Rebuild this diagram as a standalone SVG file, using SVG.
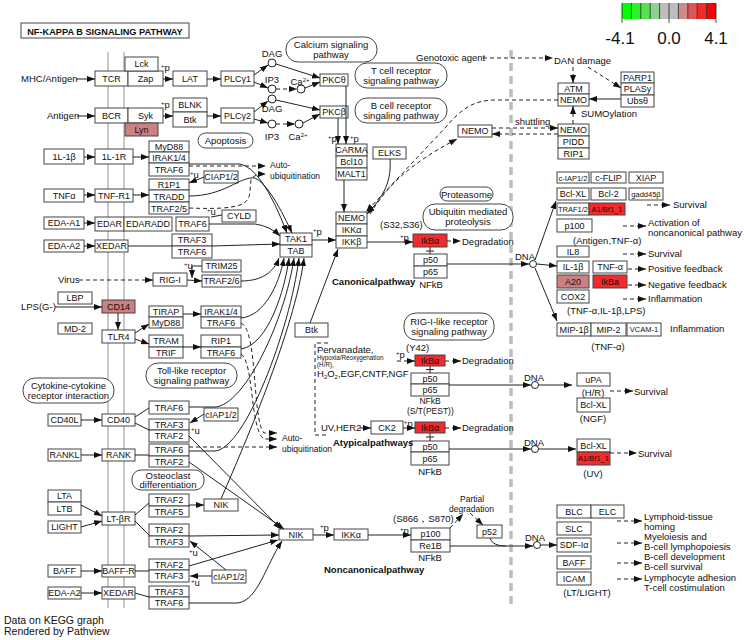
<svg xmlns="http://www.w3.org/2000/svg" width="744" height="640" viewBox="0 0 744 640">
<style>
text{font-family:"Liberation Sans",Arial,sans-serif;fill:#111}
.n rect{fill:#fff;stroke:#444;stroke-width:1}
.n text{font-size:9px;text-anchor:middle}
.n text.s{font-size:7.5px}
.n rect.pk{fill:#cc8080}
.n rect.rd{fill:#f52a2a}
.pw rect{fill:#fff;stroke:#444;stroke-width:1}
.pw text{font-size:9.5px;text-anchor:middle}
.lb{font-size:9.5px}
.sm{font-size:8.5px}
.bd{font-size:9.5px;font-weight:bold}
.mid{text-anchor:middle}
#conn path{fill:none;stroke:#222;stroke-width:1}
#conn path.d{stroke-dasharray:4,3}
.cp{fill:#fff;stroke:#222;stroke-width:1}
</style>
<defs>
<marker id="a" viewBox="0 0 8 6" refX="8" refY="3" markerWidth="8" markerHeight="6" orient="auto" markerUnits="userSpaceOnUse"><path d="M0,0 L8,3 L0,6z" fill="#111"/></marker>
</defs>
<rect width="744" height="640" fill="#fff"/>

<!-- membrane and nucleus lines -->
<line x1="108" y1="52" x2="108" y2="608" stroke="#c8c8c8" stroke-width="2"/>
<line x1="124" y1="52" x2="124" y2="608" stroke="#c8c8c8" stroke-width="2"/>
<line x1="511" y1="50" x2="511" y2="605" stroke="#bdbdbd" stroke-width="3.5" stroke-dasharray="8,5"/>

<!-- title -->
<g id="title"><rect x="21" y="23" width="168" height="15" fill="#fff" stroke="#444"/><text x="105" y="34.5" class="mid" font-weight="bold" font-size="9.2">NF-KAPPA B SIGNALING PATHWAY</text></g>

<!-- legend -->
<g id="legend">
<rect x="622" y="3" width="9.4" height="16" fill="#00ff00"/>
<rect x="631.4" y="3" width="9.4" height="16" fill="#2af12a"/>
<rect x="640.8" y="3" width="9.4" height="16" fill="#54e254"/>
<rect x="650.2" y="3" width="9.4" height="16" fill="#8fd08f"/>
<rect x="659.6" y="3" width="9.4" height="16" fill="#bdbdbd"/>
<rect x="669" y="3" width="9.4" height="16" fill="#bdbdbd"/>
<rect x="678.4" y="3" width="9.4" height="16" fill="#d08a8a"/>
<rect x="687.8" y="3" width="9.4" height="16" fill="#e25454"/>
<rect x="697.2" y="3" width="9.4" height="16" fill="#f12a2a"/>
<rect x="706.6" y="3" width="9.4" height="16" fill="#ff0000"/>
<path d="M622,3V23M631.4,3V19M640.8,3V19M650.2,3V19M659.6,3V19M669,3V23M678.4,3V19M687.8,3V19M697.2,3V19M706.6,3V19M716,3V23" stroke="#222" stroke-width="0.8"/>
<text x="620" y="44" class="mid" font-size="17">-4.1</text>
<text x="669" y="44" class="mid" font-size="17">0.0</text>
<text x="716" y="44" class="mid" font-size="17">4.1</text>
</g>

<!-- pathway nodes -->
<g class="pw" id="pw_calcium"><rect x="286" y="37" width="91" height="25" rx="12"/><text x="331" y="48">Calcium signaling</text><text x="331" y="58">pathway</text></g>
<g class="pw" id="pw_tcr"><rect x="355" y="63" width="92" height="25" rx="12"/><text x="401" y="74">T cell receptor</text><text x="401" y="84">signaling pathway</text></g>
<g class="pw" id="pw_bcr"><rect x="355" y="98" width="92" height="25" rx="12"/><text x="401" y="109">B cell receptor</text><text x="401" y="119">singaling pathway</text></g>
<g class="pw" id="pw_apoptosis"><rect x="198" y="133" width="55" height="15" rx="7.5"/><text x="225.5" y="144">Apoptosis</text></g>
<g class="pw" id="pw_proteasome"><rect x="440" y="187" width="53" height="14" rx="7"/><text x="466.5" y="197.5">Proteasome</text></g>
<g class="pw" id="pw_ubiquitin"><rect x="423" y="204" width="90" height="26" rx="12"/><text x="468" y="215">Ubiquitin mediated</text><text x="468" y="225">proteolysis</text></g>
<g class="pw" id="pw_riglike"><rect x="404" y="313" width="90" height="27" rx="12"/><text x="449" y="324.5">RIG-I-like receptor</text><text x="449" y="335">signaling pathway</text></g>
<g class="pw" id="pw_toll"><rect x="146" y="363" width="91" height="25" rx="12"/><text x="191.5" y="374">Toll-like receptor</text><text x="191.5" y="384">signaling pathway</text></g>
<g class="pw" id="pw_cytokine"><rect x="23" y="378" width="91" height="25" rx="12"/><text x="68.5" y="389">Cytokine-cytokine</text><text x="68.5" y="399">receptor interaction</text></g>
<g class="pw" id="pw_osteoclast"><rect x="132" y="470" width="72" height="20" rx="9"/><text x="168" y="478.5">Osteoclast</text><text x="168" y="488">differentiation</text></g>

<!-- gene nodes: left -->
<g class="n" id="n_tcr"><rect x="95" y="71" width="33" height="15"/><text x="111.5" y="81.5">TCR</text></g>
<g class="n" id="n_zap"><rect x="128" y="71" width="35" height="15"/><text x="145.5" y="81.5">Zap</text></g>
<g class="n" id="n_lck"><rect x="125" y="57" width="33" height="14"/><text x="141.5" y="67">Lck</text></g>
<g class="n" id="n_lat"><rect x="173" y="71" width="34" height="15"/><text x="190" y="81.5">LAT</text></g>
<g class="n" id="n_plcg1"><rect x="221" y="71" width="33" height="15"/><text x="237.5" y="81.5">PLCγ1</text></g>
<g class="n" id="n_bcr"><rect x="95" y="108" width="33" height="15"/><text x="111.5" y="118.5">BCR</text></g>
<g class="n" id="n_syk"><rect x="128" y="108" width="35" height="15"/><text x="145.5" y="118.5">Syk</text></g>
<g class="n" id="n_lyn"><rect class="pk" x="125" y="123" width="33" height="13"/><text x="141.5" y="132.5">Lyn</text></g>
<g class="n" id="n_blnk"><rect x="173" y="98" width="34" height="14"/><text x="190" y="108">BLNK</text><rect x="173" y="112" width="34" height="15"/><text x="190" y="122.5">Btk</text></g>
<g class="n" id="n_plcg2"><rect x="221" y="108" width="33" height="15"/><text x="237.5" y="118.5">PLCγ2</text></g>
<g class="n" id="n_il1b"><rect x="44" y="149" width="40" height="15"/><text x="64" y="159.5">1L-1β</text></g>
<g class="n" id="n_il1r"><rect x="95" y="149" width="38" height="15"/><text x="114" y="159.5">1L-1R</text></g>
<g class="n" id="n_myd88a"><rect x="149" y="141" width="40" height="11"/><text x="169" y="150">MyD88</text><rect x="149" y="152" width="40" height="11"/><text x="169" y="161">IRAK1/4</text><rect x="149" y="163" width="40" height="13"/><text x="169" y="173">TRAF6</text></g>
<g class="n" id="n_ciap_a"><rect x="204" y="171" width="34" height="12"/><text x="221" y="180">CIAP1/2</text></g>
<g class="n" id="n_rip1a"><rect x="149" y="179" width="40" height="11"/><text x="169" y="188">R1P1</text><rect x="149" y="190" width="40" height="12"/><text x="169" y="199.5">TRADD</text><rect x="149" y="202" width="40" height="12"/><text x="169" y="211.5">TRAF2/5</text></g>
<g class="n" id="n_tnfa"><rect x="44" y="189" width="40" height="13"/><text x="64" y="198.5">TNFα</text></g>
<g class="n" id="n_tnfr1"><rect x="95" y="189" width="38" height="13"/><text x="114" y="198.5">TNF-R1</text></g>
<g class="n" id="n_edaa1"><rect x="44" y="217" width="40" height="12"/><text x="64" y="226">EDA-A1</text></g>
<g class="n" id="n_edar"><rect x="95" y="217" width="29" height="14"/><text x="109.5" y="227">EDAR</text><rect x="124" y="217" width="48" height="14"/><text x="148" y="227">EDARADD</text></g>
<g class="n" id="n_traf6b"><rect x="176" y="217" width="33" height="14"/><text x="192.5" y="227">TRAF6</text></g>
<g class="n" id="n_cyld"><rect x="222" y="210" width="34" height="12"/><text x="239" y="219">CYLD</text></g>
<g class="n" id="n_edaa2a"><rect x="44" y="240" width="40" height="12"/><text x="64" y="249">EDA-A2</text></g>
<g class="n" id="n_xedar_a"><rect x="95" y="240" width="33" height="12"/><text x="111.5" y="249">XEDAR</text></g>
<g class="n" id="n_traf3a"><rect x="172" y="234" width="40" height="12"/><text x="192" y="243">TRAF3</text><rect x="172" y="246" width="40" height="12"/><text x="192" y="255">TRAF6</text></g>
<g class="n" id="n_trim25"><rect x="202" y="260" width="39" height="12"/><text x="221.5" y="269">TRIM25</text></g>
<g class="n" id="n_rigi"><rect x="153" y="273" width="34" height="13"/><text x="170" y="282.5">RIG-I</text></g>
<g class="n" id="n_traf26"><rect x="202" y="275" width="39" height="12"/><text x="221.5" y="284">TRAF2/6</text></g>
<g class="n" id="n_lbp"><rect x="58" y="292" width="34" height="12"/><text x="75" y="301">LBP</text></g>
<g class="n" id="n_cd14"><rect class="pk" x="102" y="300" width="33" height="13"/><text x="118.5" y="309.5">CD14</text></g>
<g class="n" id="n_tirap"><rect x="149" y="306" width="34" height="11"/><text x="166" y="315">TIRAP</text><rect x="149" y="317" width="34" height="11"/><text x="166" y="326">MyD88</text></g>
<g class="n" id="n_irak_b"><rect x="201" y="306" width="40" height="11"/><text x="221" y="315">IRAK1/4</text><rect x="201" y="317" width="40" height="11"/><text x="221" y="326">TRAF6</text></g>
<g class="n" id="n_md2"><rect x="58" y="323" width="34" height="11"/><text x="75" y="332">MD-2</text></g>
<g class="n" id="n_tlr4"><rect x="102" y="330" width="33" height="13"/><text x="118.5" y="339.5">TLR4</text></g>
<g class="n" id="n_tram"><rect x="149" y="335" width="34" height="12"/><text x="166" y="344">TRAM</text><rect x="149" y="347" width="34" height="11"/><text x="166" y="356">TRIF</text></g>
<g class="n" id="n_rip1b"><rect x="201" y="335" width="40" height="12"/><text x="221" y="344">RIP1</text><rect x="201" y="347" width="40" height="11"/><text x="221" y="356">TRAF6</text></g>
<g class="n" id="n_traf6c"><rect x="149" y="401" width="40" height="13"/><text x="169" y="410.5">TRAF6</text></g>
<g class="n" id="n_cd40l"><rect x="48" y="414" width="33" height="12"/><text x="64.5" y="423">CD40L</text></g>
<g class="n" id="n_cd40"><rect x="102" y="414" width="33" height="12"/><text x="118.5" y="423">CD40</text></g>
<g class="n" id="n_traf3b"><rect x="149" y="419" width="40" height="11"/><text x="169" y="428">TRAF3</text><rect x="149" y="430" width="40" height="12"/><text x="169" y="439">TRAF2</text></g>
<g class="n" id="n_ciap_b"><rect x="204" y="408" width="34" height="13"/><text x="221" y="417.5">cIAP1/2</text></g>
<g class="n" id="n_rankl"><rect x="48" y="449" width="33" height="12"/><text x="64.5" y="458">RANKL</text></g>
<g class="n" id="n_rank"><rect x="102" y="449" width="33" height="12"/><text x="118.5" y="458">RANK</text></g>
<g class="n" id="n_traf6d"><rect x="149" y="444" width="40" height="12"/><text x="169" y="453">TRAF6</text><rect x="149" y="456" width="40" height="11"/><text x="169" y="465">TRAF2</text></g>
<g class="n" id="n_lta"><rect x="48" y="490" width="33" height="12"/><text x="64.5" y="499">LTA</text><rect x="48" y="502" width="33" height="13"/><text x="64.5" y="511.5">LTB</text></g>
<g class="n" id="n_light"><rect x="48" y="521" width="33" height="12"/><text x="64.5" y="530">LIGHT</text></g>
<g class="n" id="n_ltbr"><rect x="102" y="512" width="33" height="13"/><text x="118.5" y="521.5">LT-βR</text></g>
<g class="n" id="n_traf2a"><rect x="149" y="494" width="40" height="12"/><text x="169" y="503">TRAF2</text><rect x="149" y="506" width="40" height="11"/><text x="169" y="515">TRAF5</text></g>
<g class="n" id="n_nik_a"><rect x="204" y="499" width="34" height="12"/><text x="221" y="508">NIK</text></g>
<g class="n" id="n_traf2b"><rect x="149" y="524" width="40" height="12"/><text x="169" y="533">TRAF2</text><rect x="149" y="536" width="40" height="11"/><text x="169" y="545">TRAF3</text></g>
<g class="n" id="n_baff_a"><rect x="48" y="565" width="33" height="12"/><text x="64.5" y="574">BAFF</text></g>
<g class="n" id="n_baffr"><rect x="102" y="565" width="33" height="12"/><text x="118.5" y="574">BAFF-R</text></g>
<g class="n" id="n_traf2c"><rect x="149" y="559" width="40" height="11"/><text x="169" y="568">TRAF2</text><rect x="149" y="570" width="40" height="12"/><text x="169" y="579">TRAF3</text></g>
<g class="n" id="n_ciap_c"><rect x="212" y="570" width="34" height="13"/><text x="229" y="579.5">cIAP1/2</text></g>
<g class="n" id="n_edaa2b"><rect x="48" y="587" width="33" height="12"/><text x="64.5" y="596">EDA-A2</text></g>
<g class="n" id="n_xedar_b"><rect x="102" y="587" width="33" height="12"/><text x="118.5" y="596">XEDAR</text></g>
<g class="n" id="n_traf3c"><rect x="149" y="586" width="40" height="11"/><text x="169" y="595">TRAF3</text><rect x="149" y="597" width="40" height="12"/><text x="169" y="606">TRAF6</text></g>

<!-- gene nodes: middle -->
<g class="n" id="n_pkct"><rect x="320" y="74" width="28" height="12"/><text x="334" y="83">PKCθ</text></g>
<g class="n" id="n_pkcb"><rect x="320" y="106" width="28" height="12"/><text x="334" y="115">PKCβ</text></g>
<g class="n" id="n_carma"><rect x="336" y="144" width="31" height="12"/><text x="351.5" y="153">CARMA</text><rect x="336" y="156" width="31" height="12"/><text x="351.5" y="165">Bcl10</text><rect x="336" y="168" width="31" height="12"/><text x="351.5" y="177">MALT1</text></g>
<g class="n" id="n_elks"><rect x="373" y="147" width="33" height="12"/><text x="389.5" y="156">ELKS</text></g>
<g class="n" id="n_nemo_mid"><rect x="458" y="125" width="34" height="12"/><text x="475" y="134">NEMO</text></g>
<g class="n" id="n_ikk"><rect x="336" y="212" width="31" height="12"/><text x="351.5" y="221">NEMO</text><rect x="336" y="224" width="31" height="12"/><text x="351.5" y="233">IKKα</text><rect x="336" y="236" width="31" height="12"/><text x="351.5" y="245">IKKβ</text></g>
<g class="n" id="n_tak1"><rect x="280" y="233" width="32" height="12"/><text x="296" y="242">TAK1</text><rect x="280" y="245" width="32" height="12"/><text x="296" y="254">TAB</text></g>
<g class="n" id="n_ikba1"><rect class="rd" x="413" y="234" width="34" height="13"/><text x="430" y="243.5">IkBα</text></g>
<g class="n" id="n_nfkb1"><rect x="414" y="254" width="33" height="12"/><text x="430.5" y="263">p50</text><rect x="414" y="266" width="33" height="12"/><text x="430.5" y="275">p65</text></g>
<g class="n" id="n_btk2"><rect x="295" y="323" width="33" height="14"/><text x="311.5" y="333">Btk</text></g>
<g class="n" id="n_ikba2"><rect class="rd" x="415" y="355" width="30" height="11"/><text x="430" y="364">IkBα</text></g>
<g class="n" id="n_nfkb2"><rect x="411" y="373" width="38" height="11"/><text x="430" y="382">p50</text><rect x="411" y="384" width="38" height="12"/><text x="430" y="393">p65</text></g>
<g class="n" id="n_ck2"><rect x="371" y="421" width="32" height="13"/><text x="387" y="430.5">CK2</text></g>
<g class="n" id="n_ikba3"><rect class="rd" x="415" y="422" width="30" height="11"/><text x="430" y="431">IkBα</text></g>
<g class="n" id="n_nfkb3"><rect x="411" y="441" width="38" height="11"/><text x="430" y="450">p50</text><rect x="411" y="452" width="38" height="13"/><text x="430" y="461.5">p65</text></g>
<g class="n" id="n_nik_b"><rect x="279" y="529" width="34" height="11"/><text x="296" y="538">NIK</text></g>
<g class="n" id="n_ikka"><rect x="334" y="529" width="34" height="11"/><text x="351" y="538">IKKα</text></g>
<g class="n" id="n_nfkb4"><rect x="411" y="528" width="39" height="12"/><text x="430.5" y="537">p100</text><rect x="411" y="540" width="39" height="12"/><text x="430.5" y="549">Re1B</text></g>
<g class="n" id="n_p52"><rect x="477" y="525" width="25" height="13"/><text x="489.5" y="534.5">p52</text></g>

<!-- gene nodes: right -->
<g class="n" id="n_atm"><rect x="558" y="83" width="31" height="11"/><text x="573.5" y="92">ATM</text><rect x="558" y="94" width="31" height="12"/><text x="573.5" y="103">NEMO</text></g>
<g class="n" id="n_parp1"><rect x="621" y="72" width="33" height="11"/><text x="637.5" y="81">PARP1</text><rect x="621" y="83" width="33" height="12"/><text x="637.5" y="92">PLASy</text><rect x="621" y="95" width="33" height="12"/><text x="637.5" y="104">Ubsθ</text></g>
<g class="n" id="n_nemo_r"><rect x="558" y="124" width="31" height="12"/><text x="573.5" y="133">NEMO</text><rect x="558" y="136" width="31" height="12"/><text x="573.5" y="145">PIDD</text><rect x="558" y="148" width="31" height="11"/><text x="573.5" y="157">RIP1</text></g>
<g class="n" id="n_ciap_r"><rect x="557" y="172" width="32" height="11"/><text class="s" x="573" y="180.5">c-IAP1/2</text></g>
<g class="n" id="n_cflip"><rect x="591" y="172" width="35" height="11"/><text x="608.5" y="181">c-FLIP</text></g>
<g class="n" id="n_xiap"><rect x="629" y="172" width="34" height="11"/><text x="646" y="181">XIAP</text></g>
<g class="n" id="n_bclxl1"><rect x="557" y="188" width="32" height="12"/><text x="573" y="197">Bcl-XL</text></g>
<g class="n" id="n_bcl2"><rect x="591" y="188" width="35" height="12"/><text x="608.5" y="197">Bcl-2</text></g>
<g class="n" id="n_gadd"><rect x="629" y="188" width="34" height="12"/><text class="s" x="646" y="196.5">gadd45β</text></g>
<g class="n" id="n_traf12"><rect x="557" y="203" width="32" height="12"/><text class="s" x="573" y="211.5">TRAF1/2</text></g>
<g class="n" id="n_a1a"><rect class="rd" x="589" y="203" width="36" height="12"/><text class="s" x="607" y="211.5">A1/Bf1_1</text></g>
<g class="n" id="n_p100r"><rect x="557" y="219" width="35" height="13"/><text x="574.5" y="228.5">p100</text></g>
<g class="n" id="n_il8"><rect x="557" y="246" width="32" height="11"/><text x="573" y="255">IL8</text></g>
<g class="n" id="n_il1br"><rect x="557" y="261" width="32" height="12"/><text x="573" y="270">IL-1β</text></g>
<g class="n" id="n_a20"><rect class="pk" x="557" y="275" width="32" height="13"/><text x="573" y="284.5">A20</text></g>
<g class="n" id="n_cox2"><rect x="557" y="290" width="32" height="13"/><text x="573" y="299.5">COX2</text></g>
<g class="n" id="n_tnfar"><rect x="593" y="261" width="34" height="12"/><text x="610" y="270">TNF-α</text></g>
<g class="n" id="n_ikbar"><rect class="rd" x="593" y="275" width="34" height="13"/><text x="610" y="284.5">IkBa</text></g>
<g class="n" id="n_mip1b"><rect x="557" y="323" width="34" height="13"/><text x="574" y="332.5">MIP-1β</text></g>
<g class="n" id="n_mip2"><rect x="591" y="323" width="35" height="13"/><text x="608.5" y="332.5">MIP-2</text></g>
<g class="n" id="n_vcam"><rect x="627" y="323" width="34" height="13"/><text class="s" x="644" y="332">VCAM-1</text></g>
<g class="n" id="n_upa"><rect x="577" y="373" width="33" height="13"/><text x="593.5" y="382.5">uPA</text></g>
<g class="n" id="n_bclxl2"><rect x="577" y="398" width="33" height="14"/><text x="593.5" y="408">Bcl-XL</text></g>
<g class="n" id="n_bclxl3"><rect x="577" y="439" width="33" height="13"/><text x="593.5" y="448.5">Bcl-XL</text></g>
<g class="n" id="n_a1b"><rect class="rd" x="577" y="452" width="33" height="13"/><text class="s" x="593.5" y="461">A1/Bf1_1</text></g>
<g class="n" id="n_blc"><rect x="557" y="505" width="34" height="13"/><text x="574" y="514.5">BLC</text></g>
<g class="n" id="n_elc"><rect x="591" y="505" width="33" height="13"/><text x="607.5" y="514.5">ELC</text></g>
<g class="n" id="n_slc"><rect x="557" y="522" width="34" height="13"/><text x="574" y="531.5">SLC</text></g>
<g class="n" id="n_sdf"><rect x="557" y="538" width="34" height="14"/><text x="574" y="548">SDF-Iα</text></g>
<g class="n" id="n_baff_r"><rect x="557" y="556" width="34" height="13"/><text x="574" y="565.5">BAFF</text></g>
<g class="n" id="n_icam"><rect x="557" y="572" width="34" height="13"/><text x="574" y="581.5">ICAM</text></g>

<!-- compounds -->
<g id="compounds">
<circle class="cp" cx="272" cy="63" r="4"/><circle class="cp" cx="272" cy="89" r="4"/><circle class="cp" cx="301" cy="89" r="4"/>
<circle class="cp" cx="272" cy="99" r="4"/><circle class="cp" cx="272" cy="124" r="4"/><circle class="cp" cx="299" cy="124" r="4"/>
<circle class="cp" cx="533" cy="264" r="3.5"/><circle class="cp" cx="535" cy="385" r="3.5"/><circle class="cp" cx="535" cy="449" r="3.5"/><circle class="cp" cx="537" cy="545" r="3.5"/>
</g>

<!-- connectors -->
<g id="conn">
<path d="M76,79 L95,79" marker-end="url(#a)"/>
<path d="M163,79 L173,79" marker-end="url(#a)"/>
<path d="M207,79 L221,79" marker-end="url(#a)"/>
<path d="M77,116 L95,116" marker-end="url(#a)"/>
<path d="M163,116 L173,116" marker-end="url(#a)"/>
<path d="M207,116 L221,116" marker-end="url(#a)"/>
<path d="M254,75 L268,65" marker-end="url(#a)"/>
<path d="M254,82 L268,88" marker-end="url(#a)"/>
<path class="d" d="M276,89 L297,89" marker-end="url(#a)"/>
<path d="M305,88 L320,82" marker-end="url(#a)"/>
<path d="M276,64 L320,78" marker-end="url(#a)"/>
<path d="M254,112 L268,101" marker-end="url(#a)"/>
<path d="M254,119 L268,123" marker-end="url(#a)"/>
<path class="d" d="M276,124 L295,124" marker-end="url(#a)"/>
<path d="M303,123 L320,114" marker-end="url(#a)"/>
<path d="M276,100 L320,110" marker-end="url(#a)"/>
<path d="M346,86 L346,144" marker-end="url(#a)"/>
<path d="M338,118 L338,144" marker-end="url(#a)"/>
<path d="M344,180 L344,212" marker-end="url(#a)"/>
<path d="M84,157 L95,157" marker-end="url(#a)"/>
<path d="M133,157 L149,157" marker-end="url(#a)"/>
<path d="M84,195 L95,195" marker-end="url(#a)"/>
<path d="M133,195 L149,195" marker-end="url(#a)"/>
<path d="M204,177 L189,183" marker-end="url(#a)"/>
<path d="M84,223 L95,223" marker-end="url(#a)"/>
<path d="M222,215 L211,217"/>
<path d="M84,246 L95,246" marker-end="url(#a)"/>
<path d="M128,246 L172,246"/>
<path d="M209,224 L255,224 Q270,226 280,236" marker-end="url(#a)"/>
<path d="M212,246 L280,244" marker-end="url(#a)"/>
<path d="M189,164 L240,164 Q262,168 287,233" marker-end="url(#a)"/>
<path d="M189,196 C225,196 240,176 255,178 Q270,185 292,233" marker-end="url(#a)"/>
<path class="d" d="M189,166 L266,166" marker-end="url(#a)"/>
<path class="d" d="M189,208 C240,210 250,205 250,190 L251,180 Q253,174 266,174" marker-end="url(#a)"/>
<path d="M202,266 L192,266 L192,278" marker-end="url(#a)"/>
<path class="d" d="M79,280 L153,280" marker-end="url(#a)"/>
<path d="M187,280 L202,281" marker-end="url(#a)"/>
<path d="M241,281 C262,281 274,272 279,258" marker-end="url(#a)"/>
<path d="M55,307 L102,307" marker-end="url(#a)"/>
<path d="M118,313 L118,330" marker-end="url(#a)"/>
<path d="M135,333 L149,324" marker-end="url(#a)"/>
<path d="M135,339 L149,344" marker-end="url(#a)"/>
<path d="M183,314 L201,314" marker-end="url(#a)"/>
<path d="M183,347 L201,347" marker-end="url(#a)"/>
<path d="M241,318 C264,316 279,285 284,258" marker-end="url(#a)"/>
<path d="M241,349 C268,345 285,290 289,258" marker-end="url(#a)"/>
<path class="d" d="M241,323 C258,330 252,420 264,433 L277,433" marker-end="url(#a)"/>
<path class="d" d="M241,354 C254,362 250,430 264,439 L277,439" marker-end="url(#a)"/>
<path class="d" d="M189,447 L277,447" marker-end="url(#a)"/>
<path d="M81,420 L102,420" marker-end="url(#a)"/>
<path d="M135,417 L149,408"/>
<path d="M135,423 L149,430"/>
<path d="M189,407 L215,407 C245,405 285,320 294,258" marker-end="url(#a)"/>
<path d="M204,414 L190,423" marker-end="url(#a)"/>
<path d="M81,455 L102,455" marker-end="url(#a)"/>
<path d="M135,455 L149,455"/>
<path d="M189,451 L215,451 C245,449 290,330 299,258" marker-end="url(#a)"/>
<path d="M221,499 C240,455 295,330 304,258" marker-end="url(#a)"/>
<path d="M310,323 L338,249" marker-end="url(#a)"/>
<path d="M81,505 L102,516" marker-end="url(#a)"/>
<path d="M81,527 L102,521" marker-end="url(#a)"/>
<path d="M135,515 L149,503"/>
<path d="M135,521 L149,535"/>
<path d="M189,505 L204,505" marker-end="url(#a)"/>
<path d="M189,436 L281,529" marker-end="url(#a)"/>
<path d="M189,462 L284,529" marker-end="url(#a)"/>
<path d="M189,536 L279,535" marker-end="url(#a)"/>
<path d="M189,566 L278,540" marker-end="url(#a)"/>
<path d="M189,603 L238,603 C258,600 266,565 282,541" marker-end="url(#a)"/>
<path d="M81,571 L102,571" marker-end="url(#a)"/>
<path d="M135,571 L149,571"/>
<path d="M212,576 L190,576" marker-end="url(#a)"/>
<path d="M226,570 L190,541" marker-end="url(#a)"/>
<path d="M81,593 L102,593" marker-end="url(#a)"/>
<path d="M135,593 L149,597"/>
<path d="M312,240 L336,240" marker-end="url(#a)"/>
<path d="M367,242 L413,242" marker-end="url(#a)"/>
<path class="d" d="M447,241 L461,241" marker-end="url(#a)"/>
<path d="M430,247 L430,254 M426,251 L434,251"/>
<path d="M447,264 L529,264" marker-end="url(#a)"/>
<path d="M535,260 L556,201" marker-end="url(#a)"/>
<path d="M537,264 L557,266" marker-end="url(#a)"/>
<path d="M535,268 L557,321" marker-end="url(#a)"/>
<path d="M390,159 C392,185 380,200 367,214" marker-end="url(#a)"/>
<path class="d" d="M558,100 L496,100 C474,100 462,108 445,128 L366,212" marker-end="url(#a)"/>
<path class="d" d="M370,214 C385,190 405,166 457,139" marker-end="url(#a)"/>
<path class="d" d="M492,128 L558,128" marker-end="url(#a)"/>
<path class="d" d="M558,134 L492,134" marker-end="url(#a)"/>
<path class="d" d="M483,58 L553,58" marker-end="url(#a)"/>
<path class="d" d="M573,67 L573,83" marker-end="url(#a)"/>
<path class="d" d="M588,67 L621,88" marker-end="url(#a)"/>
<path d="M621,99 L589,99" marker-end="url(#a)"/>
<path class="d" d="M573,124 L573,106" marker-end="url(#a)"/>
<path class="d" d="M328,343 L315,343 L315,435 L328,435"/>
<path class="d" d="M397,361 L415,361" marker-end="url(#a)"/>
<path class="d" d="M445,361 L461,361" marker-end="url(#a)"/>
<path d="M430,366 L430,373 M426,369.5 L434,369.5"/>
<path d="M449,385 L531,385" marker-end="url(#a)"/>
<path d="M539,385 L572,385" marker-end="url(#a)"/>
<path d="M360,428 L371,428" marker-end="url(#a)"/>
<path d="M403,428 L415,428" marker-end="url(#a)"/>
<path class="d" d="M445,428 L461,428" marker-end="url(#a)"/>
<path d="M430,433 L430,441 M426,437 L434,437"/>
<path d="M449,449 L531,449" marker-end="url(#a)"/>
<path d="M539,449 L576,449" marker-end="url(#a)"/>
<path d="M313,535 L334,535" marker-end="url(#a)"/>
<path d="M368,535 L411,535" marker-end="url(#a)"/>
<path class="d" d="M450,528 L463,514" marker-end="url(#a)"/>
<path class="d" d="M470,513 L483,525" marker-end="url(#a)"/>
<path d="M450,546 L533,546" marker-end="url(#a)"/>
<path d="M490,538 C492,544 498,546 506,546"/>
<path d="M541,545 L557,545" marker-end="url(#a)"/>
<path class="d" d="M647,205 L670,205" marker-end="url(#a)"/>
<path class="d" d="M623,226 L646,226" marker-end="url(#a)"/>
<path class="d" d="M623,254 L646,254" marker-end="url(#a)"/>
<path class="d" d="M628,269 L646,269" marker-end="url(#a)"/>
<path class="d" d="M628,285 L646,285" marker-end="url(#a)"/>
<path class="d" d="M623,299 L646,299" marker-end="url(#a)"/>
<path class="d" d="M610,391 L633,391" marker-end="url(#a)"/>
<path class="d" d="M610,453 L637,453" marker-end="url(#a)"/>
<path class="d" d="M617,521 L642,521" marker-end="url(#a)"/>
<path class="d" d="M617,543 L642,543" marker-end="url(#a)"/>
<path class="d" d="M617,563 L642,563" marker-end="url(#a)"/>
<path class="d" d="M617,579 L642,579" marker-end="url(#a)"/>
</g>

<!-- labels -->
<g id="labels">
<text class="lb" x="21" y="82">MHC/Antigen</text>
<text class="lb" x="47" y="119">Antigen</text>
<text class="lb" x="58" y="283">Virus</text>
<text class="lb" x="21" y="310">LPS(G-)</text>
<text class="lb" x="161" y="71"><tspan font-size="6" dy="-3">+</tspan><tspan dy="3">p</tspan></text>
<text class="lb" x="161" y="108"><tspan font-size="6" dy="-3">+</tspan><tspan dy="3">p</tspan></text>
<text class="lb mid" x="272" y="57">DAG</text>
<text class="lb mid" x="272" y="83">IP3</text>
<text class="lb mid" x="300" y="85">Ca<tspan font-size="6" dy="-3">2+</tspan></text>
<text class="lb mid" x="272" y="112">DAG</text>
<text class="lb mid" x="272" y="140">IP3</text>
<text class="lb mid" x="298" y="140">Ca<tspan font-size="6" dy="-3">2+</tspan></text>
<text class="lb" x="328" y="142"><tspan font-size="6" dy="-3">+</tspan><tspan dy="3">p</tspan></text>
<text class="lb" x="350" y="142"><tspan font-size="6" dy="-3">+</tspan><tspan dy="3">p</tspan></text>
<text class="lb" x="416" y="61">Genotoxic agent</text>
<text class="lb" x="554" y="64">DAN damage</text>
<text class="lb" x="581" y="117">SUMOylation</text>
<text class="lb" x="515" y="125">shuttling</text>
<text class="lb" x="190" y="178"><tspan font-size="6" dy="-3">+</tspan><tspan dy="3">u</tspan></text>
<text class="lb" x="207" y="215"><tspan font-size="6" dy="-3">+</tspan><tspan dy="3">u</tspan></text>
<text class="lb" x="184" y="269"><tspan font-size="6" dy="-3">+</tspan><tspan dy="3">u</tspan></text>
<text class="lb" x="191" y="434"><tspan font-size="6" dy="-3">+</tspan><tspan dy="3">u</tspan></text>
<text class="lb" x="189" y="556"><tspan font-size="6" dy="-3">+</tspan><tspan dy="3">u</tspan></text>
<text class="lb" x="191" y="586"><tspan font-size="6" dy="-3">+</tspan><tspan dy="3">u</tspan></text>
<text class="sm" x="270" y="168">Auto-</text>
<text class="sm" x="270" y="178.5">ubiquitination</text>
<text class="lb" x="313" y="235"><tspan font-size="6" dy="-3">+</tspan><tspan dy="3">p</tspan></text>
<text class="lb" x="380" y="228">(S32,S36)</text>
<text class="lb" x="400" y="241"><tspan font-size="6" dy="-3">+</tspan><tspan dy="3">p</tspan></text>
<text class="lb" x="462" y="245">Degradation</text>
<text class="lb mid" x="431" y="288">NFkB</text>
<text class="bd" x="332" y="285">Canonicalpathway</text>
<text class="lb" x="515" y="260">DNA</text>
<text class="lb" x="673" y="208">Survival</text>
<text class="lb" x="648" y="226">Activation of</text>
<text class="lb" x="648" y="236">noncanonical pathway</text>
<text class="lb" x="573" y="244">(Antigen,TNF-α)</text>
<text class="lb" x="648" y="257">Survival</text>
<text class="lb" x="648" y="272">Positive feedback</text>
<text class="lb" x="648" y="288">Negative feedback</text>
<text class="lb" x="648" y="302">Inflammation</text>
<text class="lb" x="567" y="314">(TNF-α,IL-1β,LPS)</text>
<text class="lb" x="670" y="332">Inflammation</text>
<text class="lb mid" x="608" y="350">(TNF-α)</text>
<text class="lb" x="317" y="353">Pervanadate,</text>
<text x="317" y="360" font-size="6.3">Hypoxia/Reoxygenation</text>
<text x="317" y="367" font-size="6.3">(H/R),</text>
<text class="lb" x="317" y="377">H<tspan font-size="6" dy="2">2</tspan><tspan dy="-2">O</tspan><tspan font-size="6" dy="2">2</tspan><tspan dy="-2">,EGF,CNTF,NGF</tspan></text>
<text class="lb" x="406" y="351">(Y42)</text>
<text class="lb" x="396" y="358"><tspan font-size="6" dy="-3">+</tspan><tspan dy="3">p</tspan></text>
<text class="lb" x="462" y="364">Degradation</text>
<text class="sm mid" x="430" y="404">NFkB</text>
<text class="sm" x="407" y="414">(S/T(PEST))</text>
<text class="lb" x="404" y="427"><tspan font-size="6" dy="-3">+</tspan><tspan dy="3">p</tspan></text>
<text class="lb" x="321" y="431">UV,HER2</text>
<text class="lb" x="462" y="431">Degradation</text>
<text class="bd" x="333" y="446">Atypicalpathways</text>
<text class="sm" x="282" y="441">Auto-</text>
<text class="sm" x="282" y="452">ubiquitination</text>
<text class="lb mid" x="430" y="475">NFkB</text>
<text class="lb" x="524" y="381">DNA</text>
<text class="lb mid" x="593" y="396">(H/R)</text>
<text class="lb" x="634" y="395">Survival</text>
<text class="lb mid" x="593" y="422">(NGF)</text>
<text class="lb" x="524" y="446">DNA</text>
<text class="lb mid" x="593" y="477">(UV)</text>
<text class="lb" x="638" y="457">Survival</text>
<text class="lb" x="320" y="531"><tspan font-size="6" dy="-3">+</tspan><tspan dy="3">p</tspan></text>
<text class="lb" x="393" y="522">(S866，S870)</text>
<text class="lb" x="400" y="534"><tspan font-size="6" dy="-3">+</tspan><tspan dy="3">p</tspan></text>
<text class="sm" x="460" y="501.5">Partial</text>
<text class="sm" x="449" y="512">degradation</text>
<text class="lb mid" x="430" y="561">NFkB</text>
<text class="bd" x="324" y="573">Noncanonicalpathway</text>
<text class="lb" x="525" y="541">DNA</text>
<text class="lb mid" x="587" y="596">(LT/LIGHT)</text>
<text class="lb" x="644" y="520">Lymphoid-tissue</text>
<text class="lb" x="644" y="530">homing</text>
<text class="lb" x="644" y="540">Myeloiesis and</text>
<text class="lb" x="644" y="550">B-cell lymphopoiesis</text>
<text class="lb" x="644" y="560">B-cell development</text>
<text class="lb" x="644" y="570">B-cell survival</text>
<text class="lb" x="644" y="581">Lymphocyte adhesion</text>
<text class="lb" x="644" y="591">T-cell costimulation</text>
<text x="4" y="624" font-size="10.5">Data on KEGG graph</text>
<text x="4" y="635" font-size="10.5">Rendered by Pathview</text>
</g>
</svg>
